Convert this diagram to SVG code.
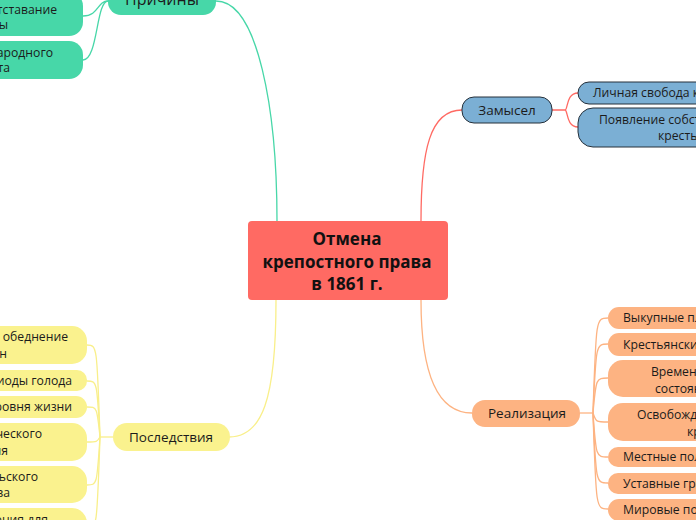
<svg xmlns="http://www.w3.org/2000/svg" width="696" height="520" viewBox="0 0 696 520">
<style>
text{font-family:"Open Sans","Noto Sans","Liberation Sans",sans-serif;font-size:12.2px;fill:#1b1b1b}
.main{font-size:13.5px}
.c{fill:none;stroke-width:1.3}
.g{fill:#47D7A8}
.gl{stroke:#47D7A8}
.r{fill:#FF6A63}
.rl{stroke:#FF6A63}
.b{fill:#7BAFD4;stroke:#26303a;stroke-width:1}
.o{fill:#FDB382}
.ol{stroke:#FDB382}
.y{fill:#FAF28E}
.yl{stroke:#F9EF8A}
.m{text-anchor:middle}
.e{text-anchor:end}
.t{font-weight:bold;font-size:17px;fill:#111}
</style>
<rect width="696" height="520" fill="#ffffff"/>
<g id="connectors">
  <path class="c gl" d="M216,1 C258,1 277,110 277,221"/>
  <path class="c rl" d="M421,221 C421,150 430,110 462,110"/>
  <path class="c yl" d="M276,300 C276,400 262,437 229,437"/>
  <path class="c ol" d="M421,300 C421,380 440,413 472,413"/>
  <path class="c gl" d="M108,1 C97,1 99,16 83,16"/>
  <path class="c gl" d="M108,1 C96,1 98,60 83,60"/>
  <path class="c rl" d="M552,110 L565,110 C568,110 566,93 578,93"/>
  <path class="c rl" d="M565,110 C568,110 566,127 578,127"/>
  <path class="c ol" d="M580,413 L593,413"/>
  <path class="c ol" d="M593,413 C596,318 596,318 608,318"/>
  <path class="c ol" d="M593,413 C596,344 596,344 608,344"/>
  <path class="c ol" d="M593,413 C596,378 596,378 608,378"/>
  <path class="c ol" d="M593,413 C596,422 596,422 608,422"/>
  <path class="c ol" d="M593,413 C596,457 596,457 608,457"/>
  <path class="c ol" d="M593,413 C596,483 596,483 608,483"/>
  <path class="c ol" d="M593,413 C596,509 596,509 608,509"/>
  <path class="c yl" d="M113,437 L100,437"/>
  <path class="c yl" d="M100,437 C97,345 97,345 87,345"/>
  <path class="c yl" d="M100,437 C97,381 97,381 87,381"/>
  <path class="c yl" d="M100,437 C97,407 97,407 87,407"/>
  <path class="c yl" d="M100,437 C97,442 97,442 87,442"/>
  <path class="c yl" d="M100,437 C97,485 97,485 87,485"/>
  <path class="c yl" d="M100,437 C97,528 97,528 87,528"/>
</g>
<g id="root">
  <rect class="r" x="248" y="221" width="200" height="79" rx="4"/>
  <text class="m t" x="347" y="245">Отмена</text>
  <text class="m t" x="347" y="268">крепостного права</text>
  <text class="m t" x="347" y="290">в 1861 г.</text>
</g>
<g id="prichiny">
  <rect class="g" x="108" y="-14" width="108" height="29" rx="13"/>
  <text class="m" x="162" y="5" style="font-size:16px">Причины</text>
</g>
<g id="prichiny-1">
  <rect class="g" x="-120" y="-8" width="203" height="44" rx="14"/>
  <text class="e" x="57" y="14">Отставание</text>
  <text class="e" x="8" y="29">страны</text>
</g>
<g id="prichiny-2">
  <rect class="g" x="-120" y="41" width="203" height="38" rx="14"/>
  <text class="e" x="53" y="57">Рост народного</text>
  <text class="e" x="10" y="72">протеста</text>
</g>
<g id="zamysel">
  <rect class="b" x="462" y="97" width="90" height="26" rx="12"/>
  <text class="m main" x="507" y="115">Замысел</text>
</g>
<g id="zamysel-1">
  <rect class="b" x="578" y="82" width="200" height="22" rx="11"/>
  <text x="593" y="97">Личная свобода крестьян</text>
</g>
<g id="zamysel-2">
  <rect class="b" x="578" y="108" width="200" height="39" rx="15"/>
  <text x="599" y="124">Появление собственности</text>
  <text x="658" y="140">крестьян</text>
</g>
<g id="realizaciya">
  <rect class="o" x="472" y="400" width="108" height="27" rx="13"/>
  <text class="m main" x="527" y="418">Реализация</text>
</g>
<g id="realizaciya-1">
  <rect class="o" x="608" y="307" width="160" height="22" rx="11"/>
  <text x="623" y="322">Выкупные платежи</text>
</g>
<g id="realizaciya-2">
  <rect class="o" x="608" y="333" width="160" height="23" rx="11"/>
  <text x="623" y="349">Крестьянские наделы</text>
</g>
<g id="realizaciya-3">
  <rect class="o" x="608" y="360" width="160" height="37" rx="15"/>
  <text x="651" y="376">Временнообязанное</text>
  <text x="655" y="393">состояние</text>
</g>
<g id="realizaciya-4">
  <rect class="o" x="608" y="403" width="160" height="38" rx="15"/>
  <text x="637" y="419">Освобождение</text>
  <text x="687" y="436">крестьян</text>
</g>
<g id="realizaciya-5">
  <rect class="o" x="608" y="447" width="160" height="20" rx="10"/>
  <text x="623" y="461">Местные положения</text>
</g>
<g id="realizaciya-6">
  <rect class="o" x="608" y="473" width="160" height="21" rx="10"/>
  <text x="623" y="488">Уставные грамоты</text>
</g>
<g id="realizaciya-7">
  <rect class="o" x="608" y="499" width="160" height="22" rx="11"/>
  <text x="623" y="514">Мировые посредники</text>
</g>
<g id="posledstviya">
  <rect class="y" x="113" y="423" width="117" height="28" rx="14"/>
  <text class="m main" x="171" y="442">Последствия</text>
</g>
<g id="posledstviya-1">
  <rect class="y" x="-120" y="326" width="207" height="38" rx="15"/>
  <text class="e" x="68" y="341">Массовое обеднение</text>
  <text class="e" x="7" y="358">крестьян</text>
</g>
<g id="posledstviya-2">
  <rect class="y" x="-120" y="370" width="207" height="21" rx="10"/>
  <text class="e" x="72" y="385">Частые периоды голода</text>
</g>
<g id="posledstviya-3">
  <rect class="y" x="-120" y="396" width="207" height="22" rx="11"/>
  <text class="e" x="72" y="411">Падение уровня жизни</text>
</g>
<g id="posledstviya-4">
  <rect class="y" x="-120" y="423" width="207" height="38" rx="15"/>
  <text class="e" x="42" y="438">Экономического</text>
  <text class="e" x="8" y="455">развития</text>
</g>
<g id="posledstviya-5">
  <rect class="y" x="-120" y="466" width="207" height="37" rx="15"/>
  <text class="e" x="38" y="481">Сельского</text>
  <text class="e" x="10" y="497">хозяйства</text>
</g>
<g id="posledstviya-6">
  <rect class="y" x="-120" y="508" width="207" height="40" rx="15"/>
  <text class="e" x="48" y="524">Ограничения для</text>
</g>
</svg>
